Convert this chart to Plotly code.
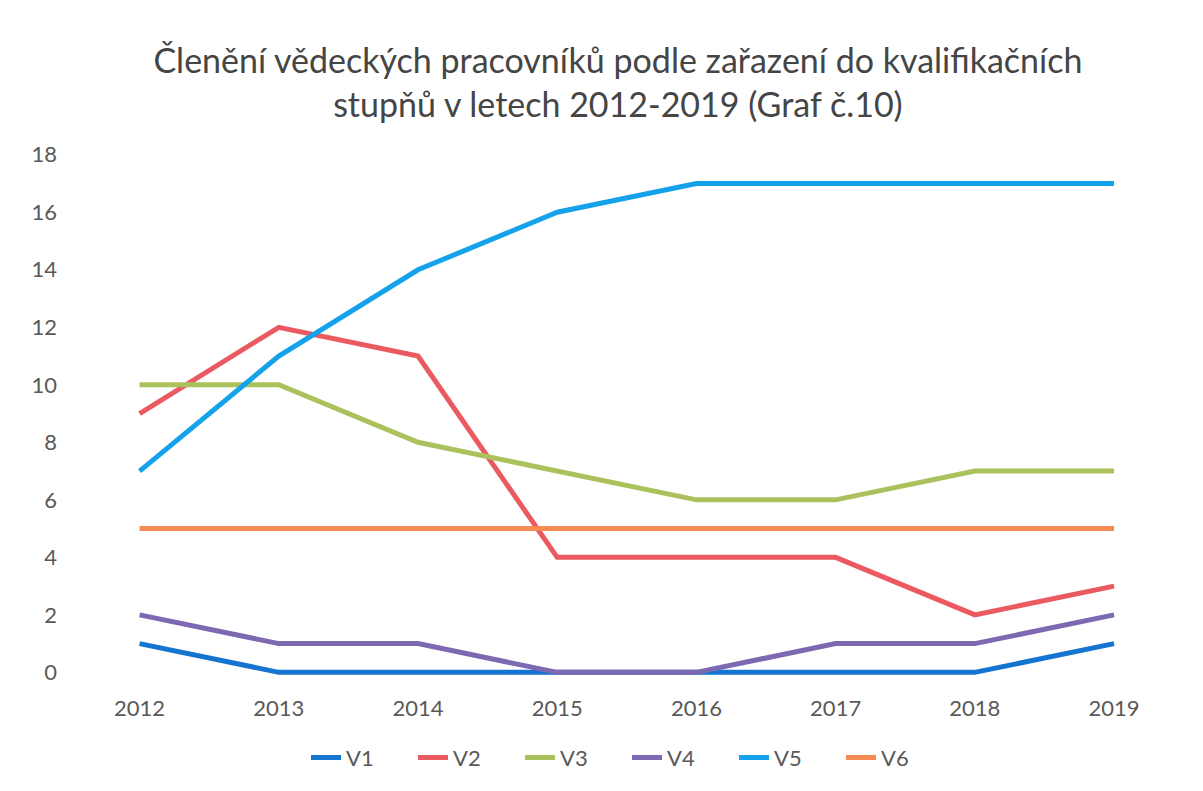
import plotly.graph_objects as go

years = [2012, 2013, 2014, 2015, 2016, 2017, 2018, 2019]
v1 = [1, 0, 0, 0, 0, 0, 0, 1]
v2 = [9, 12, 11, 4, 4, 4, 2, 3]
v3 = [10, 10, 8, 7, 6, 6, 7, 7]
v4 = [2, 1, 1, 0, 0, 1, 1, 2]
v5 = [7, 11, 14, 16, 17, 17, 17, 17]
v6 = [5, 5, 5, 5, 5, 5, 5, 5]
names = ["V1", "V2", "V3", "V4", "V5", "V6"]
colors = ["#1574CF", "#EA5A60", "#ABC25C", "#7D68B2", "#14A2EA", "#F58A52"]
y_ticks = [0, 2, 4, 6, 8, 10, 12, 14, 16, 18]

fig = go.Figure()
for name, vals, col in zip(names, [v1, v2, v3, v4, v5, v6], colors):
    fig.add_trace(go.Scatter(x=years, y=vals, mode="lines", name=name,
                             line=dict(color=col, width=5)))

font_family = "Lato, 'Open Sans', sans-serif"
fig.update_layout(
    width=1203, height=791,
    paper_bgcolor="white", plot_bgcolor="white",
    margin=dict(l=62, r=90, t=141, b=118),
    font=dict(family=font_family, color="#595959", size=22),
    title=dict(text="Členění vědeckých pracovníků podle zařazení do kvalifikačních<br>stupňů v letech 2012-2019 (Graf č.10)",
               x=0.507, xanchor="center", y=0.918, yanchor="top",
               font=dict(size=34, color="#454545", family=font_family)),
    showlegend=True,
    legend=dict(orientation="h", x=0.53, xanchor="center", y=-0.144, yanchor="middle",
                font=dict(size=22, color="#595959"), entrywidth=62, entrywidthmode="pixels"),
    xaxis=dict(range=[2011.5, 2019.05], tickmode="array", tickvals=years,
               ticktext=[str(y) for y in years], showgrid=False, zeroline=False,
               showline=False, ticks="", ticklabelstandoff=12),
    yaxis=dict(range=[-0.3, 18.2], tickmode="array", tickvals=y_ticks,
               showgrid=False, zeroline=False, showline=False, ticks="",
               ticklabelstandoff=12),
)

fig.write_html("out.html")
